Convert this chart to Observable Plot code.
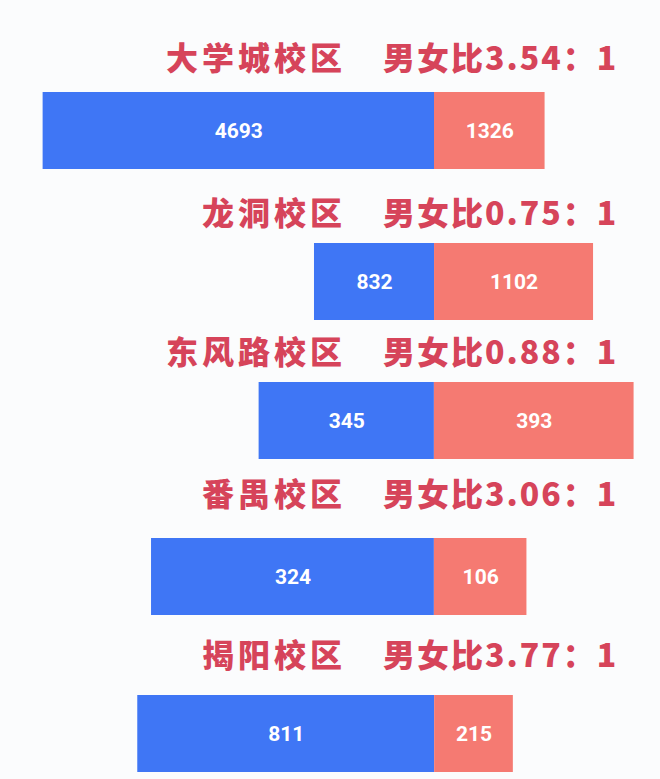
<!DOCTYPE html>
<html>
<head>
<meta charset="utf-8">
<script src="https://cdn.jsdelivr.net/npm/d3@7"></script>
<script src="https://cdn.jsdelivr.net/npm/@observablehq/plot@0.6"></script>
<style>
  html, body { margin: 0; padding: 0; background: #fbfcfd; }
  #chart { position: relative; width: 660px; height: 779px; background: #fbfcfd; overflow: hidden; }
  .title { position: absolute; left: 0; width: 660px; height: 40px; font-family: "Noto Sans CJK SC", sans-serif; font-weight: 900; font-size: 32px; color: #d6445a; line-height: 40px; }
  .name { position: absolute; right: 314px; letter-spacing: 4px; white-space: nowrap; }
  .ratio { position: absolute; left: 383px; letter-spacing: 2px; white-space: nowrap; }
  .row { position: absolute; left: 0; }
</style>
</head>
<body>
<div id="chart"></div>
<script>
// Data
const campuses = ["大学城校区", "龙洞校区", "东风路校区", "番禺校区", "揭阳校区"];
const male = [4693, 832, 345, 324, 811];
const female = [1326, 1102, 393, 106, 215];
const ratios = ["3.54", "0.75", "0.88", "3.06", "3.77"];

// Layout (each row in the source image has its own scale)
const W = 660;
const xDomains = [[-5204, 2710], [-3008, 1566], [-854, 445], [-497, 259], [-1186, 617]];
const titleTops = [36, 191, 330, 472, 633];
const barTops = [92, 243, 382, 538, 695];
const barHeight = 77;

const chart = document.getElementById("chart");

campuses.forEach((c, i) => {
  const t = document.createElement("div");
  t.className = "title";
  t.style.top = titleTops[i] + "px";
  t.innerHTML = `<span class="name">${c}</span><span class="ratio">男女比${ratios[i]}：1</span>`;
  chart.appendChild(t);

  const rows = [
    {sex: "男", x1: -male[i], x2: 0, value: male[i]},
    {sex: "女", x1: 0, x2: female[i], value: female[i]}
  ];

  const p = Plot.plot({
    width: W,
    height: barHeight,
    margin: 0,
    style: {background: "transparent", overflow: "visible"},
    x: {domain: xDomains[i], range: [0, W], axis: null},
    color: {domain: ["男", "女"], range: ["#3f76f5", "#f57a72"]},
    marks: [
      Plot.rectX(rows, {x1: "x1", x2: "x2", fill: "sex"}),
      Plot.text(rows, {
        x: d => (d.x1 + d.x2) / 2,
        frameAnchor: "middle",
        text: d => String(d.value),
        fill: "white",
        fontSize: 21,
        fontWeight: "bold",
        fontFamily: "Roboto, 'DejaVu Sans', sans-serif"
      })
    ]
  });
  const wrap = document.createElement("div");
  wrap.className = "row";
  wrap.style.top = barTops[i] + "px";
  wrap.appendChild(p);
  chart.appendChild(wrap);
});
</script>
</body>
</html>
